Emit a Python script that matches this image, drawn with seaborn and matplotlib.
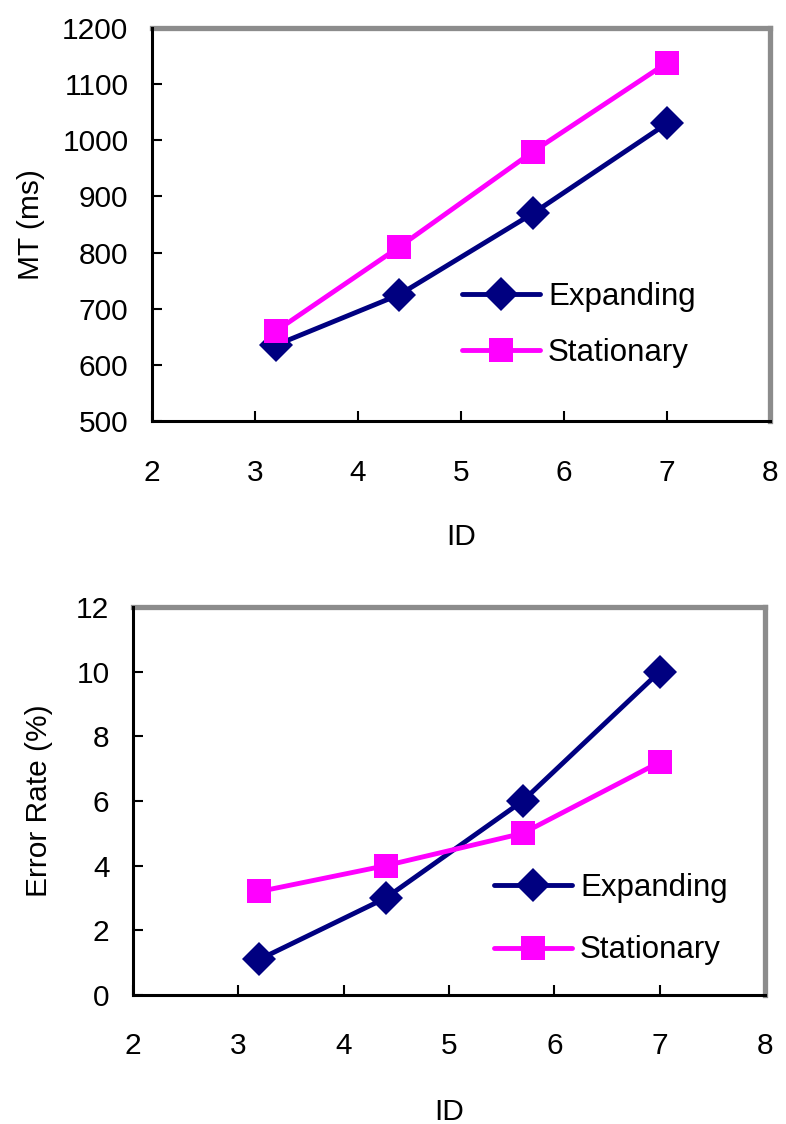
import pandas as pd
import matplotlib.pyplot as plt
import seaborn as sns

# data
ids = [3.2, 4.4, 5.7, 7.0]
mt_expanding = [635, 725, 870, 1030]
mt_stationary = [660, 810, 980, 1138]
err_expanding = [1.1, 3.0, 6.0, 10.0]
err_stationary = [3.2, 4.0, 5.0, 7.2]
conditions = ["Expanding", "Stationary"]

sns.set_style("white")
plt.rcParams['font.family'] = ['Liberation Sans', 'DejaVu Sans']
plt.rcParams['text.color'] = 'black'
plt.rcParams['axes.labelcolor'] = 'black'

palette = {"Expanding": "#000080", "Stationary": "#FF00FF"}
markers = {"Expanding": "D", "Stationary": "s"}
FS = 21.5


def long_frame(exp, sta, col):
    return pd.DataFrame({
        "ID": ids * 2,
        col: exp + sta,
        "cond": [conditions[0]] * len(ids) + [conditions[1]] * len(ids),
    })


def style_axes(ax):
    for side in ["top", "right"]:
        ax.spines[side].set_color("#8c8c8c")
        ax.spines[side].set_linewidth(3.8)
    for side in ["left", "bottom"]:
        ax.spines[side].set_color("black")
        ax.spines[side].set_linewidth(2.2)
        ax.spines[side].set_zorder(5)
    ax.tick_params(direction="in", length=7, width=1.5, colors="black",
                   labelsize=FS, left=True, bottom=True)
    ax.tick_params(axis="x", pad=27)
    ax.tick_params(axis="y", pad=17)
    ax.set_xlim(2, 8)
    ax.set_xticks(range(2, 9))


def draw(ax, df, col):
    sns.lineplot(data=df, x="ID", y=col, hue="cond", style="cond", palette=palette,
                 markers=markers, dashes=False, linewidth=3.5, markersize=17,
                 markeredgewidth=0, ax=ax)


fig = plt.figure(figsize=(7.86, 11.24), dpi=100)
ax1 = fig.add_axes([0.1934, 0.6254, 0.7862, 0.3497])
ax2 = fig.add_axes([0.1692, 0.1148, 0.8041, 0.3452])

# top: movement time
draw(ax1, long_frame(mt_expanding, mt_stationary, "MT"), "MT")
ax1.set_ylim(500, 1200)
ax1.set_yticks(range(500, 1201, 100))
ax1.set_ylabel("MT (ms)", fontsize=FS, labelpad=12)
ax1.set_xlabel("ID", fontsize=FS, labelpad=26)
style_axes(ax1)
leg = ax1.legend(loc="upper left", bbox_to_anchor=(0.466, 0.41), frameon=True,
                 fontsize=22.5, handlelength=2.5, handletextpad=0.26,
                 labelspacing=0.84, borderpad=0.2, framealpha=1)
leg.get_frame().set_edgecolor("none")

# bottom: error rate
draw(ax2, long_frame(err_expanding, err_stationary, "Err"), "Err")
ax2.set_ylim(0, 12)
ax2.set_yticks(range(0, 13, 2))
ax2.set_ylabel("Error Rate (%)", fontsize=FS, labelpad=17)
ax2.set_xlabel("ID", fontsize=FS, labelpad=27)
style_axes(ax2)
ax2.legend(loc="upper left", bbox_to_anchor=(0.536, 0.37), frameon=False,
           fontsize=22.5, handlelength=2.5, handletextpad=0.26,
           labelspacing=1.03, borderpad=0.2)

fig.savefig("out.png", dpi=100)
